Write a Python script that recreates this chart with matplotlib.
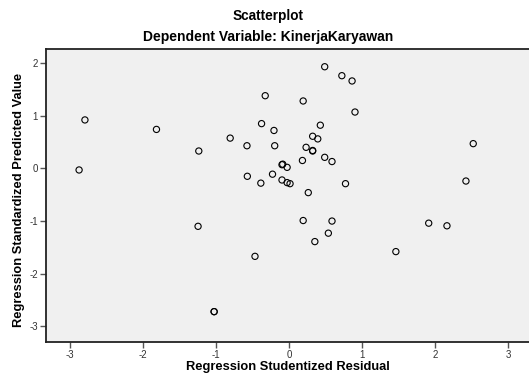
import matplotlib.pyplot as plt

plt.rcParams['font.family'] = ['Liberation Sans', 'DejaVu Sans']
plt.rcParams['axes.unicode_minus'] = False

# studentized residual (x) and standardized predicted value (y)
resid = [-2.88, -2.80, -1.82, -1.24, -1.25, -1.03, -1.03, -0.81, -0.58, -0.575,
         -0.47, -0.39, -0.38, -0.33, -0.23, -0.21, -0.20, -0.10, -0.09, -0.10,
         -0.03, -0.03, 0.01, 0.18, 0.19, 0.19, 0.23, 0.26, 0.32, 0.32,
         0.32, 0.35, 0.39, 0.425, 0.485, 0.485, 0.535, 0.585, 0.585, 0.72,
         0.77, 0.86, 0.90, 1.46, 1.91, 2.16, 2.42, 2.52]
pred = [-0.03, 0.92, 0.74, 0.33, -1.10, -2.72, -2.72, 0.575, 0.43, -0.15,
        -1.67, -0.28, 0.85, 1.38, -0.11, 0.72, 0.43, 0.07, 0.08, -0.22,
        0.02, -0.27, -0.29, 0.15, 1.28, -0.99, 0.40, -0.46, 0.61, 0.33,
        0.34, -1.39, 0.56, 0.82, 1.93, 0.21, -1.23, 0.13, -1.00, 1.76,
        -0.29, 1.66, 1.07, -1.58, -1.04, -1.09, -0.24, 0.47]
xticks = [-3, -2, -1, 0, 1, 2, 3]
yticks = [-3, -2, -1, 0, 1, 2]

fig = plt.figure(figsize=(5.29, 3.81), dpi=100)
ax = fig.add_axes([0.087, 0.1024, 0.913, 0.7686])
ax.set_facecolor('#F0F0F0')

ax.scatter(resid, pred, s=20, facecolors='none', edgecolors='black', linewidths=0.8)

ax.set_xticks(xticks)
ax.set_yticks(yticks)
ax.set_xlim(-3.333, 3.284)
ax.set_ylim(-3.296, 2.264)
ax.tick_params(direction='out', length=4, width=1, color='#555555',
               labelsize=7, labelcolor='#333333', pad=2)

for side in ['left', 'bottom', 'top']:
    ax.spines[side].set_color('#222222')
    ax.spines[side].set_linewidth(1.3)
ax.spines['right'].set_visible(False)

ax.set_xlabel('Regression Studentized Residual', fontsize=9.3, fontweight='bold')
ax.set_ylabel('Regression Standardized Predicted Value', fontsize=9.3, fontweight='bold')
ax.xaxis.set_label_coords(0.5, -0.085)
ax.xaxis.label.set_va('center')
ax.yaxis.set_label_coords(-0.055, 0.486)
ax.yaxis.label.set_va('center')

fig.text(0.5076, 0.959, 'Scatterplot', ha='center', va='center', fontsize=9.8, fontweight='bold')
fig.text(0.5076, 0.903, 'Dependent Variable: KinerjaKaryawan', ha='center', va='center',
         fontsize=10, fontweight='bold')

plt.savefig('out.png', dpi=100)
